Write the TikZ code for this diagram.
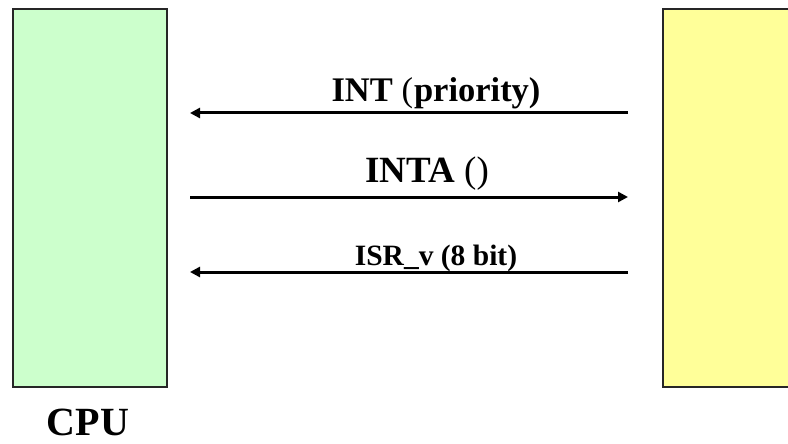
\documentclass[tikz,border=0pt]{standalone}
\usepackage{fontspec}
\setmainfont{Liberation Serif}
\usetikzlibrary{arrows.meta}

\begin{document}
\begin{tikzpicture}[x=1pt,y=-1pt,
  unitbox/.style={draw=black!85,line width=2pt,inner sep=0pt,anchor=north west},
  sig/.style={line width=3pt,-{Triangle[length=10pt,width=10pt]}},
  lbl/.style={anchor=base,inner sep=0pt,font=\bfseries}
]
\useasboundingbox (0,0) rectangle (788,444);
\clip (0,0) rectangle (788,444);

% the two units
\node[unitbox,fill={rgb,255:red,204;green,255;blue,204},
      minimum width=154pt,minimum height=378pt] (cpu) at (12,8) {};
\node[unitbox,fill={rgb,255:red,255;green,255;blue,153},
      minimum width=160pt,minimum height=378pt] (dev) at (662,8) {};

% end points of the signal lines
\coordinate (intR)  at (628,113);
\coordinate (intL)  at (190,113);
\coordinate (ackL)  at (190,197);
\coordinate (ackR)  at (628,197);
\coordinate (vecR)  at (628,272);
\coordinate (vecL)  at (190,272);

\draw[sig] (intR) -- (intL);
\draw[sig] (ackL) -- (ackR);
\draw[sig] (vecR) -- (vecL);

% signal labels
\node[lbl,font=\bfseries\fontsize{34.5}{40}\selectfont] (intlbl) at (436,102)
  {INT {\mdseries(}\kern1pt priority)};
\node[lbl,font=\bfseries\fontsize{37}{42}\selectfont] (acklbl) at (427,182)
  {INTA {\mdseries()}};
\node[lbl,font=\bfseries\fontsize{29.5}{34}\selectfont] (veclbl) at (436,265)
  {ISR\_v (8 bit)};

% unit caption
\node[lbl,font=\bfseries\fontsize{40}{46}\selectfont] (cpulbl) at (88,435) {CPU};
\end{tikzpicture}
\end{document}
